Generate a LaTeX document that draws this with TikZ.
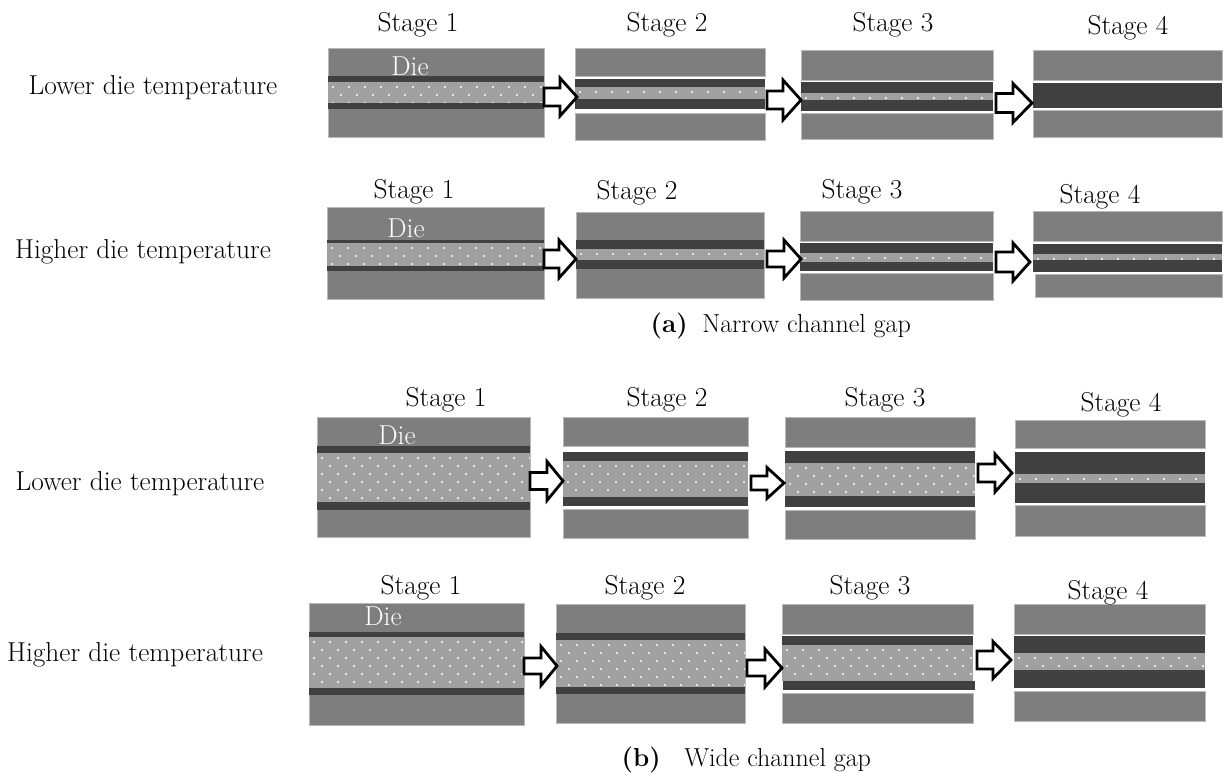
\documentclass[tikz,border=0pt]{standalone}
\usetikzlibrary{calc}
\definecolor{diegray}{RGB}{126,126,126}
\definecolor{darkband}{RGB}{64,64,64}
\definecolor{lightband}{RGB}{160,160,160}
\definecolor{edgegray}{RGB}{185,185,185}
\tikzset{
  lbl/.style={font=\fontsize{20.5}{24}\selectfont, inner sep=0pt},
  caplbl/.style={font=\fontsize{19.5}{23}\selectfont, inner sep=0pt},
  dielbl/.style={font=\fontsize{20.5}{24}\selectfont, text=white, inner sep=0pt},
  diebox/.style={fill=diegray, draw=edgegray, line width=0.5pt},
  darkslab/.style={fill=darkband},
  flowarrow/.style={draw=black, fill=white, line width=2.1pt, line join=miter},
}
% gray die block
\newcommand{\dieblock}[4]{\path[diebox] (#1,#3) rectangle (#2,#4);}
% dark solidified layer
\newcommand{\darklayer}[4]{\fill[darkslab] (#1,#3) rectangle (#2,#4);}
% dotted melt band
\newcommand{\meltband}[4]{%
  \fill[lightband] (#1,#3) rectangle (#2,#4);
  \begin{scope}
    \clip (#1,#3) rectangle (#2,#4);
    \foreach \j in {0,...,7}{
      \foreach \i in {0,...,14}{
        \pgfmathsetmacro\xx{#1+5+16*\i+8*mod(\j,2)}
        \pgfmathsetmacro\yy{#3+5+8*\j}
        \fill[white] (\xx,\yy) circle[radius=1.15];
      }
    }
  \end{scope}}
% block arrow: x0, xtip, xhead, ytip, shaft half, head half
\newcommand{\blockarrow}[6]{%
  \draw[flowarrow] (#1,#4-#5) -- (#3,#4-#5) -- (#3,#4-#6) -- (#2,#4)
    -- (#3,#4+#6) -- (#3,#4+#5) -- (#1,#4+#5) -- cycle;}
\begin{document}
\begin{tikzpicture}[x=0.75pt,y=-0.75pt]
\useasboundingbox (0,0) rectangle (1223,773);
\fill[white] (0,0) rectangle (1223,773);

%================ Row 1 : narrow, lower temperature
\dieblock{328}{544}{48}{137}
\darklayer{328}{544}{76}{82}
\meltband{328}{544}{82}{103}
\darklayer{328}{544}{103}{109}
\node[dielbl] (die1) at (410,66) {Die};

\dieblock{575}{765}{48}{76}
\darklayer{575}{765}{79}{87}
\meltband{575}{765}{87}{99}
\darklayer{575}{765}{99}{109}
\dieblock{575}{765}{113}{140}

\dieblock{801}{993}{50}{80}
\darklayer{801}{993}{82}{93}
\meltband{801}{993}{93}{100}
\darklayer{801}{993}{100}{111}
\dieblock{801}{993}{113}{139}

\dieblock{1033}{1222}{50}{80}
\darklayer{1033}{1222}{83}{108}
\dieblock{1033}{1222}{110}{137}

\blockarrow{544}{577}{560}{97}{9}{19}
\blockarrow{767}{801}{783}{100}{9}{20}
\blockarrow{996}{1032}{1013}{103}{9.5}{19.5}

%================ Row 2 : narrow, higher temperature
\dieblock{327}{544}{207}{299}
\darklayer{327}{544}{240}{243}
\meltband{327}{544}{243}{266}
\darklayer{327}{544}{266}{271}
\node[dielbl] (die2) at (406,228) {Die};

\dieblock{576}{764}{212}{298}
\darklayer{576}{764}{240}{249}
\meltband{576}{764}{249}{260}
\darklayer{576}{764}{260}{269}

\dieblock{800}{993}{211}{241}
\darklayer{800}{993}{243}{253}
\meltband{800}{993}{253}{262}
\darklayer{800}{993}{262}{271}
\dieblock{800}{993}{273}{300}

\dieblock{1033}{1222}{211}{241}
\darklayer{1033}{1222}{244}{254}
\meltband{1033}{1222}{254}{260}
\darklayer{1033}{1222}{260}{272}
\dieblock{1035}{1222}{274}{297}

\blockarrow{544}{576}{559}{259}{9}{19}
\blockarrow{767}{801}{784}{259}{8}{19}
\blockarrow{996}{1030}{1013}{262}{10}{19}

%================ Row 3 : wide, lower temperature
\dieblock{317}{530}{417}{537}
\darklayer{317}{530}{446}{453}
\meltband{317}{530}{453}{502}
\darklayer{317}{530}{502}{510}
\node[dielbl] (die3) at (397,435) {Die};

\dieblock{563}{748}{417}{446}
\darklayer{563}{748}{452}{461}
\meltband{563}{748}{461}{497}
\darklayer{563}{748}{497}{506}
\dieblock{563}{748}{509}{538}

\dieblock{785}{975}{417}{447}
\darklayer{785}{975}{451}{463}
\meltband{785}{975}{463}{496}
\darklayer{785}{975}{496}{507}
\dieblock{785}{975}{510}{539}

\dieblock{1015}{1205}{420}{448}
\darklayer{1015}{1205}{452}{474}
\meltband{1015}{1205}{474}{483}
\darklayer{1015}{1205}{483}{503}
\dieblock{1015}{1205}{505}{536}

\blockarrow{530}{563}{547}{481}{8.5}{19.5}
\blockarrow{751}{784}{767}{483}{7}{15.5}
\blockarrow{978}{1012}{995}{473}{9}{19}

%================ Row 4 : wide, higher temperature
\dieblock{309}{524}{603}{725}
\darklayer{309}{524}{632}{637}
\meltband{309}{524}{637}{688}
\darklayer{309}{524}{688}{695}
\node[dielbl] (die4) at (383,616) {Die};

\dieblock{556}{745}{604}{723}
\darklayer{556}{745}{633}{640}
\meltband{556}{745}{640}{687}
\darklayer{556}{745}{687}{694}

\dieblock{782}{973}{604}{634}
\darklayer{782}{973}{636}{645}
\meltband{782}{973}{645}{681}
\darklayer{783}{975}{681}{690}
\dieblock{782}{973}{693}{723}

\dieblock{1014}{1205}{604}{634}
\darklayer{1014}{1205}{636}{653}
\meltband{1014}{1205}{653}{670}
\darklayer{1014}{1205}{670}{688}
\dieblock{1014}{1205}{691}{721}

\blockarrow{524}{557}{541}{666}{8}{19.5}
\blockarrow{747}{782}{765}{668}{8}{19}
\blockarrow{977}{1011}{993}{660}{9}{18.5}

%================ Stage labels
\node[lbl] (r1s1) at (418,25) {Stage 1};
\node[lbl] (r1s2) at (667,25) {Stage 2};
\node[lbl] (r1s3) at (893,25) {Stage 3};
\node[lbl] (r1s4) at (1128,28) {Stage 4};
\node[lbl] (r2s1) at (414,192) {Stage 1};
\node[lbl] (r2s2) at (637,193) {Stage 2};
\node[lbl] (r2s3) at (862,192) {Stage 3};
\node[lbl] (r2s4) at (1100,197) {Stage 4};
\node[lbl] (r3s1) at (446,400) {Stage 1};
\node[lbl] (r3s2) at (667,400) {Stage 2};
\node[lbl] (r3s3) at (885,400) {Stage 3};
\node[lbl] (r3s4) at (1121,405) {Stage 4};
\node[lbl] (r4s1) at (421,588) {Stage 1};
\node[lbl] (r4s2) at (645,588) {Stage 2};
\node[lbl] (r4s3) at (870,588) {Stage 3};
\node[lbl] (r4s4) at (1108,593) {Stage 4};

%================ Row labels
\node[lbl] (t1) at (153,88) {Lower die temperature};
\node[lbl] (t2) at (143,252) {Higher die temperature};
\node[lbl] (t3) at (140,484) {Lower die temperature};
\node[lbl] (t4) at (135,655) {Higher die temperature};

%================ Captions
\node[caplbl, anchor=east] (capa) at (688,326) {\textbf{(a)}};
\node[caplbl, anchor=west] (capatext) at (702,326) {Narrow channel gap};
\node[caplbl, anchor=east] (capb) at (661,760) {\textbf{(b)}};
\node[caplbl, anchor=west] (capbtext) at (684,760) {Wide channel gap};
\end{tikzpicture}
\end{document}
